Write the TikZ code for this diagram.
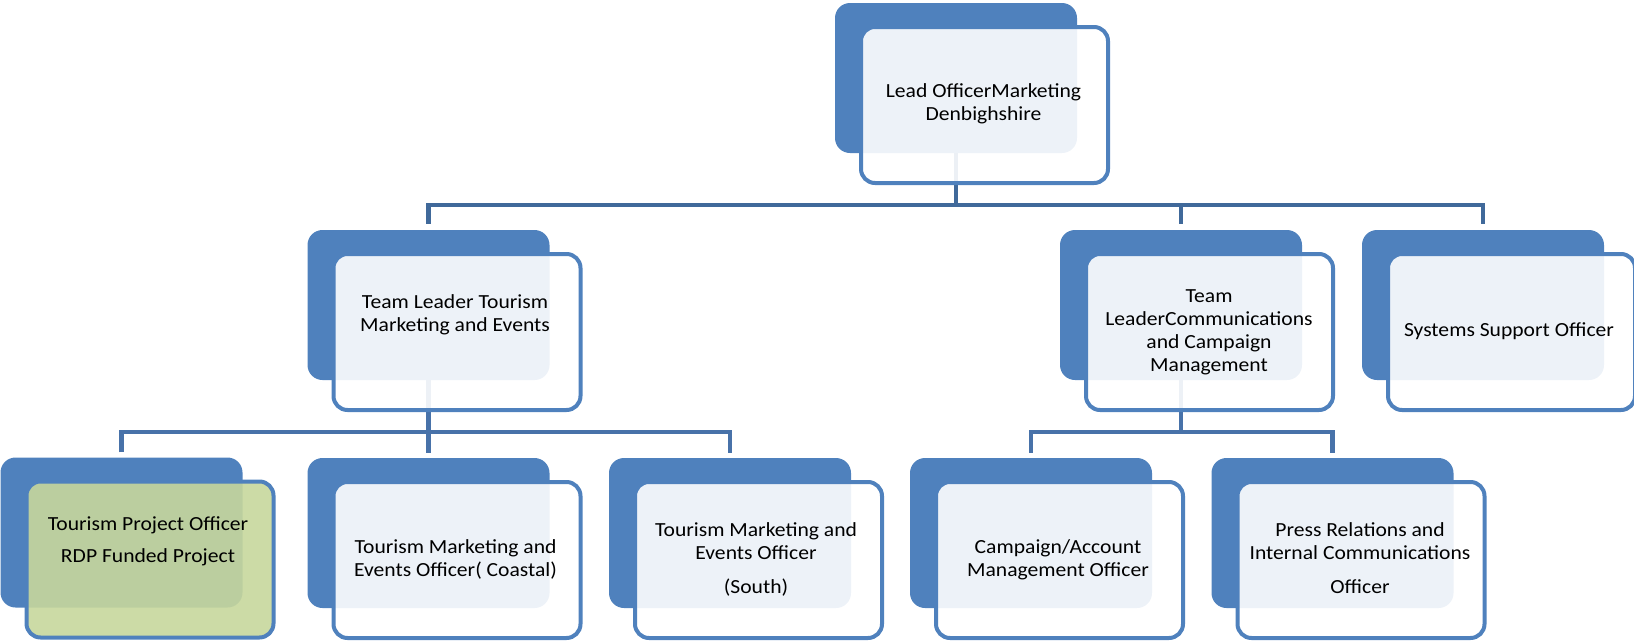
\documentclass[tikz,border=0pt]{standalone}
\usepackage{fontspec}
\setmainfont{Carlito}[FakeStretch=1.08]
\definecolor{accent}{HTML}{4F81BD}
\definecolor{connA}{HTML}{40699A}
\definecolor{connB}{HTML}{4872A9}
\definecolor{olivefill}{HTML}{C7D79C}
\pgfdeclarelayer{bg}
\pgfsetlayers{bg,main}
\tikzset{
  backbox/.style={fill=accent, rounded corners=15pt, minimum width=242pt, minimum height=150pt, inner sep=0pt},
  frontbox/.style={draw=accent, line width=4pt, fill=white, fill opacity=0.9, rounded corners=14pt, minimum width=247pt, minimum height=156pt, inner sep=0pt},
  txt/.style={align=center, font=\fontsize{20}{23}\selectfont, inner sep=0pt, text=black},
  conn1/.style={draw=connA, line width=4.5pt},
  conn2/.style={draw=connB, line width=4.5pt},
}
\newcommand\orgunit[4]{%
  \node[backbox] (#1-b) at (#2,#3) {};
  \node[frontbox,#4] (#1) at ([xshift=28.5pt,yshift=-27pt]#1-b.center) {};
}
\begin{document}
\begin{tikzpicture}[x=1pt,y=-1pt]
\useasboundingbox (0,0) rectangle (1634,643);
% boxes
\orgunit{top}{956}{78}{}
\orgunit{tlt}{428.5}{305}{}
\orgunit{tlc}{1181}{305}{}
\orgunit{sso}{1483}{305}{}
\orgunit{tpo}{121.5}{532.5}{fill=olivefill}
\orgunit{tmc}{428.5}{533}{}
\orgunit{tms}{730}{533}{}
\orgunit{cam}{1031}{533}{}
\orgunit{pri}{1332.5}{533}{}
% texts
\node[txt] (top-t) at (983.5,104) {Lead OfficerMarketing\\Denbighshire};
\node[txt] (tlt-t) at (455,315) {Team Leader Tourism\\Marketing and Events};
\node[txt] (tlc-t) at (1209,332.5) {Team\\LeaderCommunications\\and Campaign\\Management};
\node[txt] (sso-t) at (1509,331) {Systems Support Officer};
\node[txt] (tpo-t) at (148,541.5) {Tourism Project Officer\\[9pt]RDP Funded Project};
\node[txt] (tmc-t) at (455.5,559.5) {Tourism Marketing and\\Events Officer( Coastal)};
\node[txt] (tms-t) at (756,559.5) {Tourism Marketing and\\Events Officer\\[11pt](South)};
\node[txt] (cam-t) at (1058,559.5) {Campaign/Account\\Management Officer};
\node[txt] (pri-t) at (1360,558) {Press Relations and\\Internal Communications\\[11pt]Officer};
% connectors
\begin{pgfonlayer}{bg}
\coordinate (bus1) at (956,205);
\coordinate (bus2) at (428.5,432);
\coordinate (bus3) at (1181,432);
\draw[conn1] (top-b.south) -- (top-b.south |- bus1);
\draw[conn1] ([yshift=6pt]tlt-b.north) |- (bus1 -| sso-b.north) -- ([yshift=6pt]sso-b.north);
\draw[conn1] (bus1 -| tlc-b.north) -- ([yshift=6pt]tlc-b.north);
\draw[conn2] (tlt-b.south) -- (tlt-b.south |- bus2);
\draw[conn2] ([yshift=5pt]tpo-b.north) |- (bus2 -| tms-b.north) -- ([yshift=5pt]tms-b.north);
\draw[conn2] (bus2 -| tmc-b.north) -- ([yshift=5pt]tmc-b.north);
\draw[conn2] (tlc-b.south) -- (tlc-b.south |- bus3);
\draw[conn2] ([yshift=5pt]cam-b.north) |- (bus3 -| pri-b.north) -- ([yshift=5pt]pri-b.north);
\end{pgfonlayer}
\end{tikzpicture}
\end{document}
